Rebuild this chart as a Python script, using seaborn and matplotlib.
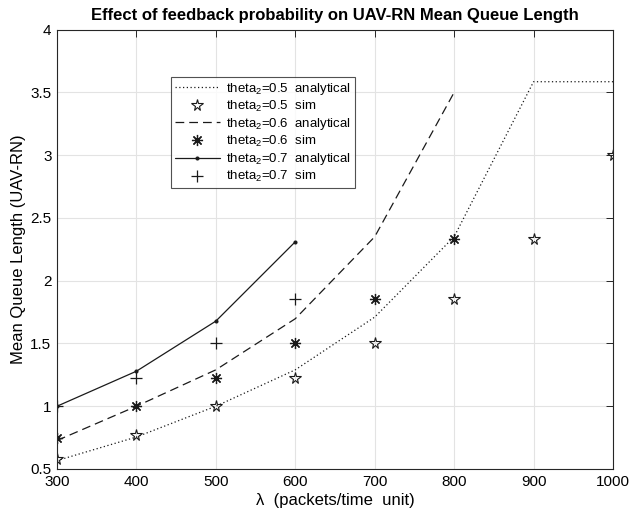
import matplotlib
matplotlib.use("Agg")
import matplotlib.pyplot as plt
import seaborn as sns
import numpy as np
import pandas as pd
from matplotlib.ticker import FuncFormatter, MultipleLocator

# ---- data ----
lam_05_an = [300, 400, 500, 600, 700, 800, 900, 1000]
q_05_an = [0.567, 0.755, 1.0, 1.29, 1.71, 2.35, 3.585, 3.585]
lam_05_sim = [300, 400, 500, 600, 700, 800, 900, 1000]
q_05_sim = [0.583, 0.767, 1.0, 1.222, 1.5, 1.857, 2.333, 3.0]

lam_06_an = [300, 400, 500, 600, 700, 800]
q_06_an = [0.727, 1.0, 1.29, 1.697, 2.35, 3.5]
lam_06_sim = [300, 400, 500, 600, 700, 800]
q_06_sim = [0.75, 1.0, 1.222, 1.5, 1.857, 2.333]

lam_07_an = [300, 400, 500, 600]
q_07_an = [1.0, 1.279, 1.678, 2.31]
lam_07_sim = [300, 400, 500, 600]
q_07_sim = [1.0, 1.222, 1.5, 1.857]

labels = [
    r"theta$_2$=0.5  analytical",
    r"theta$_2$=0.5  sim",
    r"theta$_2$=0.6  analytical",
    r"theta$_2$=0.6  sim",
    r"theta$_2$=0.7  analytical",
    r"theta$_2$=0.7  sim",
]
title = "Effect of feedback probability on UAV-RN Mean Queue Length"
xlabel = "λ  (packets/time  unit)"
ylabel = "Mean Queue Length (UAV-RN)"

sns.set_style("white")
plt.rcParams["font.family"] = ["Liberation Sans", "DejaVu Sans"]
plt.rcParams["mathtext.fontset"] = "custom"
plt.rcParams["mathtext.rm"] = "Liberation Sans"
plt.rcParams["mathtext.it"] = "Liberation Sans:italic"
plt.rcParams["text.color"] = "black"
plt.rcParams["axes.labelcolor"] = "black"

fig = plt.figure(figsize=(6.3, 5.16), dpi=100)
ax = fig.add_axes([0.0905, 0.0911, 0.8825, 0.8515])

k = "#1a1a1a"
sns.lineplot(x=lam_05_an, y=q_05_an, ax=ax, color=k, linestyle=(0, (1, 2)), linewidth=0.9,
             label=labels[0], sort=False)
sns.lineplot(x=lam_05_sim, y=q_05_sim, ax=ax, color=k, linestyle="none", marker="*",
             markersize=8.5, markerfacecolor="none", markeredgecolor=k, markeredgewidth=0.8,
             label=labels[1], sort=False)
sns.lineplot(x=lam_06_an, y=q_06_an, ax=ax, color=k, linestyle=(0, (7, 4)), linewidth=0.9,
             label=labels[2], sort=False)
sns.lineplot(x=lam_06_sim, y=q_06_sim, ax=ax, color=k, linestyle="none", marker=(8, 2, 0),
             markersize=8, markeredgewidth=0.9, markeredgecolor=k,
             label=labels[3], sort=False)
sns.lineplot(x=lam_07_an, y=q_07_an, ax=ax, color=k, linestyle="-", linewidth=0.9,
             marker="o", markersize=2.2, markeredgecolor=k, markerfacecolor=k,
             label=labels[4], sort=False)
sns.lineplot(x=lam_07_sim, y=q_07_sim, ax=ax, color=k, linestyle="none", marker="+",
             markersize=9, markeredgewidth=0.9, markeredgecolor=k,
             label=labels[5], sort=False)

ax.set_xlim(300, 1000)
ax.set_ylim(0.5, 4)
ax.xaxis.set_major_locator(MultipleLocator(100))
ax.yaxis.set_major_locator(MultipleLocator(0.5))
ax.yaxis.set_major_formatter(FuncFormatter(lambda v, p: "%g" % v))
ax.grid(True, color="#e3e3e3", linewidth=0.8)
ax.set_axisbelow(True)
for s in ax.spines.values():
    s.set_color("#262626")
    s.set_linewidth(0.8)
ax.tick_params(direction="in", length=5, width=0.7, top=True, right=True,
               labelsize=11, colors="#262626", labelcolor="black", pad=4)

ax.set_title(title, fontsize=12, fontweight="bold", pad=7)
ax.set_xlabel(xlabel, fontsize=12, labelpad=3)
ax.set_ylabel(ylabel, fontsize=12, labelpad=3)

leg = ax.legend(loc="upper left", bbox_to_anchor=(0.205, 0.892), borderaxespad=0,
                fontsize=9.5, frameon=True, fancybox=False, edgecolor="#262626",
                handlelength=3.4, handletextpad=0.45, labelspacing=0.15,
                borderpad=0.3)
leg.get_frame().set_linewidth(0.8)

fig.savefig("out.png", dpi=100)
